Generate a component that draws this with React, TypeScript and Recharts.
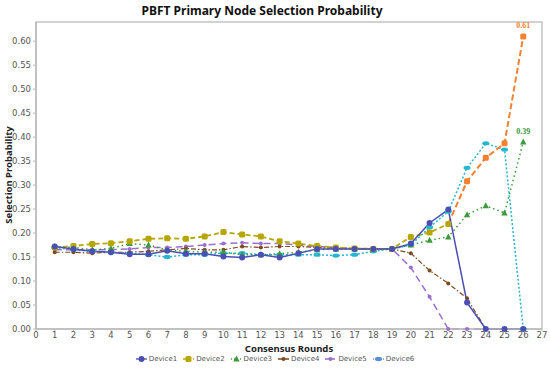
import React from 'react';
import { LineChart, Line, XAxis, YAxis, Legend, ReferenceArea, LabelList } from 'recharts';

const rounds = [1, 2, 3, 4, 5, 6, 7, 8, 9, 10, 11, 12, 13, 14, 15, 16, 17, 18, 19, 20, 21, 22, 23, 24, 25, 26];

const device1 = [0.172, 0.167, 0.162, 0.16, 0.156, 0.156, 0.163, 0.157, 0.157, 0.151, 0.149, 0.155, 0.149, 0.158, 0.167, 0.167, 0.167, 0.167, 0.167, 0.178, 0.221, 0.249, 0.055, 0, 0, 0];
const device2 = [0.17, 0.173, 0.177, 0.179, 0.183, 0.188, 0.189, 0.188, 0.193, 0.202, 0.197, 0.193, 0.183, 0.178, 0.173, 0.17, 0.168, 0.167, 0.167, 0.192, 0.201, 0.219, null, null, null, null];
const device2Tail = [null, null, null, null, null, null, null, null, null, null, null, null, null, null, null, null, null, null, null, null, null, 0.219, 0.308, 0.357, 0.387, 0.61];
const device3 = [0.172, 0.17, 0.165, 0.168, 0.178, 0.175, 0.165, 0.162, 0.16, 0.16, 0.155, 0.155, 0.157, 0.16, 0.165, 0.167, 0.167, 0.167, 0.167, 0.175, 0.185, 0.192, 0.238, 0.257, 0.242, 0.39];
const device4 = [0.16, 0.16, 0.158, 0.16, 0.16, 0.162, 0.165, 0.168, 0.165, 0.165, 0.172, 0.17, 0.172, 0.172, 0.17, 0.168, 0.167, 0.167, 0.167, 0.158, 0.122, 0.095, 0.064, 0, 0, 0];
const device5 = [0.165, 0.165, 0.165, 0.165, 0.167, 0.17, 0.17, 0.172, 0.175, 0.178, 0.18, 0.178, 0.178, 0.175, 0.172, 0.17, 0.168, 0.167, 0.167, 0.128, 0.067, 0, 0, 0, 0, 0];
const device6 = [0.17, 0.165, 0.162, 0.16, 0.158, 0.155, 0.15, 0.155, 0.155, 0.158, 0.158, 0.155, 0.155, 0.155, 0.155, 0.153, 0.155, 0.162, 0.167, 0.175, 0.212, 0.245, 0.336, 0.387, 0.374, 0];

const xTicks = [0, 1, 2, 3, 4, 5, 6, 7, 8, 9, 10, 11, 12, 13, 14, 15, 16, 17, 18, 19, 20, 21, 22, 23, 24, 25, 26, 27];
const yTicks = [0, 0.05, 0.1, 0.15, 0.2, 0.25, 0.3, 0.35, 0.4, 0.45, 0.5, 0.55, 0.6];

const data = rounds.map((r, i) => ({
  round: r,
  d1: device1[i],
  d2: device2[i],
  d2t: device2Tail[i],
  d3: device3[i],
  d4: device4[i],
  d5: device5[i],
  d6: device6[i],
}));

const C1 = '#4b4fb3';
const C2 = '#b5a600';
const C2T = '#f28130';
const C3 = '#3c9a3c';
const C4 = '#7d4a22';
const C5 = '#9a6fd0';
const C6 = '#27b6cf';

type Shape = 'circle' | 'square' | 'triangle' | 'dot' | 'oval';

function marker(shape: Shape, color: string, cx: number, cy: number, key?: string | number) {
  if (shape === 'circle') return <circle key={key} cx={cx} cy={cy} r={3} fill={color} />;
  if (shape === 'square') return <rect key={key} x={cx - 3} y={cy - 3} width={6} height={6} rx={1.5} fill={color} />;
  if (shape === 'triangle')
    return <path key={key} d={`M${cx},${cy - 3.5}L${cx + 3.2},${cy + 2.5}L${cx - 3.2},${cy + 2.5}Z`} fill={color} />;
  if (shape === 'oval') return <ellipse key={key} cx={cx} cy={cy} rx={3.5} ry={2.2} fill={color} />;
  return <circle key={key} cx={cx} cy={cy} r={2} fill={color} />;
}

const dotFn = (shape: Shape, color: string, skip?: number) => (p: any) => {
  if (p.cx == null || p.cy == null || p.value == null || p.index === skip) return <g key={p.index} />;
  return marker(shape, color, p.cx, p.cy, p.index);
};

const endLabel = (color: string) => (p: any) => {
  if (p.index !== rounds.length - 1) return null;
  return (
    <text x={p.x} y={p.y - 8} textAnchor="middle" fontSize={8} fontWeight="bold" fill={color}>
      {Number(p.value).toFixed(2)}
    </text>
  );
};

const legendItems: { name: string; color: string; shape: Shape; dash: string }[] = [
  { name: 'Device1', color: C1, shape: 'circle', dash: '' },
  { name: 'Device2', color: C2, shape: 'square', dash: '3 2' },
  { name: 'Device3', color: C3, shape: 'triangle', dash: '1 2' },
  { name: 'Device4', color: C4, shape: 'dot', dash: '4 1 1 1' },
  { name: 'Device5', color: C5, shape: 'dot', dash: '4 2' },
  { name: 'Device6', color: '#5a8fd8', shape: 'oval', dash: '1 1' },
];

const renderLegend = () => (
  <div style={{ display: 'flex', justifyContent: 'center', gap: 6, fontFamily: 'DejaVu Sans, sans-serif', fontSize: 7, color: '#555', lineHeight: '10px' }}>
    {legendItems.map(it => (
      <span key={it.name} style={{ display: 'flex', alignItems: 'center', gap: 2 }}>
        <svg width={11} height={8}>
          <line x1={0} y1={4} x2={11} y2={4} stroke={it.color} strokeWidth={1.3} strokeDasharray={it.dash} />
          {marker(it.shape, it.color, 5.5, 4)}
        </svg>
        {it.name}
      </span>
    ))}
  </div>
);

const tick = { fontSize: 8.5, fill: '#555', fontFamily: 'DejaVu Sans, sans-serif' };

export default function App() {
  return (
    <div style={{ position: 'absolute', left: 0, top: 0, width: 550, height: 370, background: '#fff' }}>
      <div
        style={{
          position: 'absolute', top: 2, left: 0, width: 524, textAlign: 'center',
          fontFamily: '"Noto Sans", sans-serif', fontWeight: 'bold', fontSize: 12, color: '#111',
        }}
      >
        PBFT Primary Node Selection Probability
      </div>
      <div
        style={{
          position: 'absolute', left: 8, top: 175, width: 0, height: 0,
        }}
      >
        <div
          style={{
            position: 'absolute', transform: 'translate(-50%, -50%) rotate(-90deg)', whiteSpace: 'nowrap',
            fontFamily: '"Noto Sans", sans-serif', fontWeight: 'bold', fontSize: 9.5, color: '#222',
          }}
        >
          Selection Probability
        </div>
      </div>
      <LineChart width={550} height={370} data={data} margin={{ top: 22, right: 8, bottom: 0, left: 8 }}>
        <ReferenceArea x1={0} x2={27} y1={0} y2={0.64} fill="none" stroke="#c4c4c4" strokeWidth={1.5} ifOverflow="visible" />
        <XAxis
          dataKey="round"
          type="number"
          domain={[0, 27]}
          ticks={xTicks}
          interval={0}
          tick={tick}
          tickLine={{ stroke: '#bbb' }}
          axisLine={{ stroke: '#bbb', strokeWidth: 1.5 }}
          tickSize={2}
          tickMargin={1}
          height={29}
          label={{ value: 'Consensus Rounds', position: 'insideBottom', offset: 6, fontSize: 9.5, fontWeight: 'bold', fill: '#222', fontFamily: '"Noto Sans", sans-serif' }}
        />
        <YAxis
          type="number"
          domain={[0, 0.64]}
          ticks={yTicks}
          interval={0}
          tickFormatter={(v: number) => v.toFixed(2)}
          tick={tick}
          tickLine={{ stroke: '#bbb' }}
          axisLine={{ stroke: '#bbb', strokeWidth: 1.5 }}
          tickSize={3}
          width={28}
        />
        <Legend verticalAlign="bottom" height={14} content={renderLegend} wrapperStyle={{ top: 354, height: 12 }} />
        <Line dataKey="d6" stroke={C6} strokeWidth={1.5} strokeDasharray="2 2" dot={dotFn('oval', C6)} isAnimationActive={false} legendType="none" />
        <Line dataKey="d5" stroke={C5} strokeWidth={1.5} strokeDasharray="7 4" dot={dotFn('dot', C5)} isAnimationActive={false} legendType="none" />
        <Line dataKey="d4" stroke={C4} strokeWidth={1.2} strokeDasharray="5 2 1.5 2" dot={dotFn('dot', C4)} isAnimationActive={false} legendType="none" />
        <Line dataKey="d3" stroke={C3} strokeWidth={1.5} strokeDasharray="1.5 3" dot={dotFn('triangle', C3)} isAnimationActive={false} legendType="none">
          <LabelList dataKey="d3" content={endLabel(C3)} />
        </Line>
        <Line dataKey="d2t" stroke={C2T} strokeWidth={2} strokeDasharray="6 3" dot={dotFn('square', C2T, 21)} isAnimationActive={false} legendType="none">
          <LabelList dataKey="d2t" content={endLabel(C2T)} />
        </Line>
        <Line dataKey="d2" stroke={C2} strokeWidth={1.8} strokeDasharray="5 3" dot={dotFn('square', C2)} isAnimationActive={false} legendType="none" />
        <Line dataKey="d1" stroke={C1} strokeWidth={1.5} dot={dotFn('circle', C1)} isAnimationActive={false} legendType="none" />
      </LineChart>
    </div>
  );
}
